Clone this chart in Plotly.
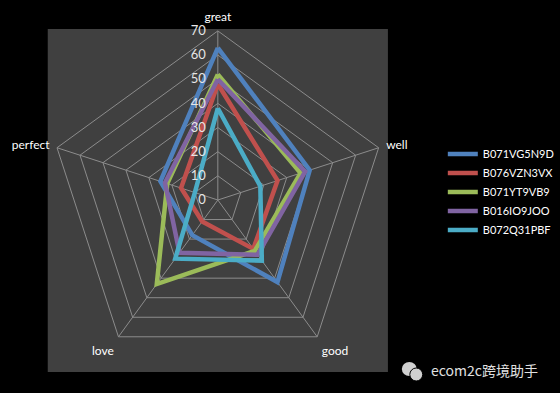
import plotly.graph_objects as go

categories = ["great", "well", "good", "love", "perfect"]
series_names = ["B071VG5N9D", "B076VZN3VX", "B071YT9VB9", "B016IO9JOO", "B072Q31PBF"]
blue_vals = [63, 40, 42, 18, 25]
red_vals = [48, 26, 25, 11, 16]
green_vals = [52, 36, 26, 43, 22]
purple_vals = [50, 38, 28, 27, 23]
cyan_vals = [38, 18.5, 31, 30, 10]
radial_ticks = [0, 10, 20, 30, 40, 50, 60, 70]

colors = ["#4F81BD", "#C0504D", "#9BBB59", "#8064A2", "#4BACC6"]
all_vals = [blue_vals, red_vals, green_vals, purple_vals, cyan_vals]

W, H = 560, 393
cx, cy, R = 219, 200, 170

fig = go.Figure()
for name, vals, col in zip(series_names, all_vals, colors):
    fig.add_trace(go.Scatterpolar(
        r=vals + [vals[0]],
        theta=categories + [categories[0]],
        mode="lines",
        name=name,
        line=dict(color=col, width=4.5),
        hoverinfo="skip",
    ))

font_main = "Lato, 'Open Sans', sans-serif"

fig.update_layout(
    width=W, height=H,
    margin=dict(l=0, r=0, t=0, b=0),
    paper_bgcolor="#000000",
    plot_bgcolor="#000000",
    font=dict(family=font_main, color="#FFFFFF", size=11),
    showlegend=True,
    polar=dict(
        domain=dict(x=[(cx - R) / W, (cx + R) / W],
                    y=[(H - cy - R) / H, (H - cy + R) / H]),
        bgcolor="rgba(0,0,0,0)",
        gridshape="linear",
        radialaxis=dict(
            range=[0, 70],
            tickvals=radial_ticks,
            ticktext=[str(v) for v in radial_ticks],
            angle=90,
            tickangle=90,
            side="counterclockwise",
            showline=False,
            ticks="outside",
            ticklen=7,
            tickcolor="rgba(0,0,0,0)",
            showgrid=True,
            gridcolor="#8C8C8C",
            gridwidth=1,
            tickfont=dict(size=13, color="#E6E6E6", family=font_main),
        ),
        angularaxis=dict(
            direction="clockwise",
            rotation=90,
            showline=True,
            linecolor="#8C8C8C",
            linewidth=1,
            showgrid=True,
            gridcolor="#8C8C8C",
            gridwidth=1,
            ticks="outside",
            ticklen=5,
            tickcolor="rgba(0,0,0,0)",
            tickfont=dict(size=12, color="#FFFFFF", family=font_main),
        ),
    ),
    legend=dict(
        x=0.795, y=0.645, xanchor="left", yanchor="top",
        bgcolor="rgba(0,0,0,0)",
        font=dict(size=11, color="#FFFFFF", family=font_main),
        tracegroupgap=0,
        itemwidth=30,
    ),
    shapes=[
        dict(type="rect", xref="paper", yref="paper",
             x0=48 / W, x1=390 / W, y0=(H - 372) / H, y1=(H - 29) / H,
             fillcolor="#404040", line=dict(width=0), layer="below"),
        dict(type="circle", xref="paper", yref="paper",
             x0=404 / W, x1=419 / W, y0=(H - 376) / H, y1=(H - 362) / H,
             fillcolor="#D0D0D0", line=dict(width=0)),
        dict(type="circle", xref="paper", yref="paper",
             x0=412 / W, x1=425 / W, y0=(H - 381) / H, y1=(H - 368) / H,
             fillcolor="#D0D0D0", line=dict(color="#000000", width=1)),
    ],
    annotations=[
        dict(text="ecom2c跨境助手", xref="paper", yref="paper",
             x=431 / W, y=(H - 370) / H, xanchor="left", yanchor="middle",
             showarrow=False,
             font=dict(size=14, color="#E0E0E0",
                       family="'Noto Sans CJK SC', 'Noto Sans', sans-serif")),
    ],
)

fig.write_html("out.html")
